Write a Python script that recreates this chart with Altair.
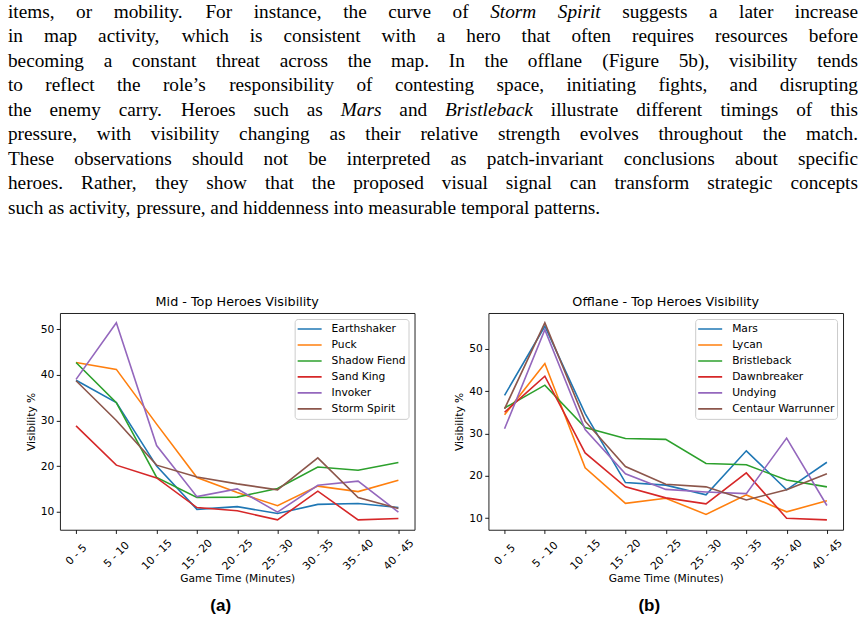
import altair as alt
import pandas as pd

# ---------------- data ----------------
periods = ["0 - 5", "5 - 10", "10 - 15", "15 - 20", "20 - 25",
           "25 - 30", "30 - 35", "35 - 40", "40 - 45"]

mid_heroes = ["Earthshaker", "Puck", "Shadow Fiend", "Sand King", "Invoker", "Storm Spirit"]
mid_earthshaker = [38.8, 33.9, 20.0, 10.5, 11.1, 9.6, 11.6, 11.8, 10.9]
mid_puck = [42.7, 41.2, 29.2, 17.5, 14.2, 11.3, 15.6, 14.4, 16.9]
mid_shadow_fiend = [42.7, 33.9, 17.5, 13.1, 13.2, 15.1, 19.8, 19.1, 20.8]
mid_sand_king = [28.8, 20.2, 17.4, 10.9, 10.2, 8.2, 14.5, 8.2, 8.5]
mid_invoker = [39.0, 51.4, 24.5, 13.3, 15.0, 9.9, 15.8, 16.7, 9.9]
mid_storm_spirit = [38.7, 30.0, 20.2, 17.6, 16.1, 14.8, 21.8, 13.1, 10.7]
mid_values = [mid_earthshaker, mid_puck, mid_shadow_fiend,
              mid_sand_king, mid_invoker, mid_storm_spirit]

off_heroes = ["Mars", "Lycan", "Bristleback", "Dawnbreaker", "Undying", "Centaur Warrunner"]
off_mars = [39.0, 55.3, 34.7, 18.4, 17.8, 15.5, 25.9, 16.7, 23.2]
off_lycan = [34.4, 46.5, 21.9, 13.5, 14.7, 10.9, 15.5, 11.5, 14.1]
off_bristleback = [36.0, 41.4, 31.4, 28.8, 28.6, 22.9, 22.6, 19.0, 17.4]
off_dawnbreaker = [35.0, 43.5, 25.4, 17.4, 14.8, 13.4, 20.7, 10.0, 9.6]
off_undying = [31.1, 54.5, 30.9, 20.5, 16.8, 16.2, 15.8, 28.9, 13.0]
off_centaur = [35.8, 56.1, 32.9, 22.2, 18.0, 17.4, 14.3, 16.7, 20.5]
off_values = [off_mars, off_lycan, off_bristleback,
              off_dawnbreaker, off_undying, off_centaur]

y_ticks = [10, 20, 30, 40, 50]
tab10 = ["#1f77b4", "#ff7f0e", "#2ca02c", "#d62728", "#9467bd", "#8c564b"]

paragraph = [
    "items, or mobility. For instance, the curve of *Storm* *Spirit* suggests a later increase",
    "in map activity, which is consistent with a hero that often requires resources before",
    "becoming a constant threat across the map. In the offlane (Figure 5b), visibility tends",
    "to reflect the role\u2019s responsibility of contesting space, initiating fights, and disrupting",
    "the enemy carry. Heroes such as *Mars* and *Bristleback* illustrate different timings of this",
    "pressure, with visibility changing as their relative strength evolves throughout the match.",
    "These observations should not be interpreted as patch-invariant conclusions about specific",
    "heroes. Rather, they show that the proposed visual signal can transform strategic concepts",
    "such as activity, pressure, and hiddenness into measurable temporal patterns.",
]

# ---------------- layout constants ----------------
PLOT_W, PLOT_H = 355, 217
ORIGIN_X = 59                         # left plot / paragraph view origin on the page
TEXT_X0, TEXT_X1 = 7, 858             # justified text block
BASE0, PITCH = 16.5, 24.5             # baseline of first line, line pitch
FS = 19.3                             # paragraph font size
PARA_H = 230


def width_table(groups):
    d = {}
    for w, chars in groups.items():
        for c in chars:
            d[c] = w
    return d


ROMAN = width_table({250: " ,.", 278: "ijlt:;", 333: "fr-()\u2019I[]", 389: "sJ",
                     444: "acez?", 500: "bdghknopquvxy0123456789", 556: "FPS",
                     611: "ELTZ", 667: "BCR", 722: "ADGHKNOQUVXYw", 778: "m",
                     889: "M", 944: "W"})
ITALIC = width_table({250: " ,.", 278: "fijlt", 389: "rsz", 444: "cekvxy",
                      500: "abdghnopquS", 611: "B", 667: "w", 722: "m", 833: "M"})


def word_width(word, italic):
    t = ITALIC if italic else ROMAN
    return sum(t.get(c, 500) for c in word) / 1000.0 * FS


rows = []
for i, line in enumerate(paragraph):
    items = [(w.strip("*"), w.startswith("*")) for w in line.split(" ")]
    widths = [word_width(w, it) for w, it in items]
    if i < len(paragraph) - 1:
        gap = (TEXT_X1 - TEXT_X0 - sum(widths)) / (len(items) - 1)
    else:
        gap = 0.25 * FS
    x = TEXT_X0
    for (w, it), wd in zip(items, widths):
        rows.append({"w": w, "x": x - ORIGIN_X, "y": BASE0 + i * PITCH,
                     "it": "i" if it else "r"})
        x += wd + gap
para_df = pd.DataFrame(rows)


def long_df(heroes, values):
    recs = []
    for h, vals in zip(heroes, values):
        for p, v in zip(periods, vals):
            recs.append({"period": p, "hero": h, "value": v})
    return pd.DataFrame(recs)


FONT = "DejaVu Sans"


def panel(heroes, values, domain, title, caption):
    df = long_df(heroes, values)
    lines = alt.Chart(df).mark_line(strokeWidth=1.6).encode(
        x=alt.X("period:O", sort=periods,
                scale=alt.Scale(padding=0.4),
                axis=alt.Axis(title="Game Time (Minutes)", labelAngle=-45,
                              labelAlign="center", labelBaseline="middle",
                              labelPadding=21, labelOverlap=False, titlePadding=2)),
        y=alt.Y("value:Q",
                scale=alt.Scale(domain=domain, nice=False, zero=False),
                axis=alt.Axis(title="Visibility %", values=y_ticks,
                              labelPadding=2.5, titlePadding=4)),
        color=alt.Color("hero:N", sort=heroes,
                        scale=alt.Scale(domain=heroes, range=tab10),
                        legend=alt.Legend(orient="top-right", offset=6, title=None,
                                          symbolType="stroke", symbolSize=576,
                                          symbolStrokeWidth=1.6,
                                          labelFont=FONT, labelFontSize=10.7,
                                          labelColor="black", labelOffset=9,
                                          padding=2, rowPadding=0, clipHeight=16,
                                          strokeColor="#cccccc", fillColor="white",
                                          cornerRadius=3, labelLimit=300)),
    )
    cap = alt.Chart(pd.DataFrame({"t": [caption]})).mark_text(
        font="Liberation Sans", fontWeight="bold", fontSize=17,
        align="center", baseline="middle", color="black",
    ).encode(text="t:N", x=alt.value(161), y=alt.value(293))
    return alt.layer(lines, cap).properties(
        width=PLOT_W, height=PLOT_H,
        title=alt.TitleParams(title, font=FONT, fontSize=12.8, fontWeight="normal",
                              color="black", offset=4, anchor="middle", frame="group"),
    )


left = panel(mid_heroes, mid_values, [6.04, 53.56],
             "Mid - Top Heroes Visibility", "(a)")
right = panel(off_heroes, off_values, [7.275, 58.425],
              "Offlane - Top Heroes Visibility", "(b)")

para_layers = []
for style, code in (("normal", "r"), ("italic", "i")):
    para_layers.append(
        alt.Chart(para_df).transform_filter(alt.datum.it == code).mark_text(
            align="left", baseline="alphabetic", font="Liberation Serif",
            fontSize=FS, fontStyle=style, color="black",
        ).encode(
            x=alt.X("x:Q", scale=None, axis=None),
            y=alt.Y("y:Q", scale=None, axis=None),
            text="w:N",
        )
    )
para = alt.layer(*para_layers).properties(
    width=PLOT_W, height=PARA_H,
    view=alt.ViewBackground(stroke="transparent"),
)

charts = alt.hconcat(left, right, spacing=74, bounds="flush").resolve_scale(color="independent")

chart = alt.vconcat(para, charts, spacing=312 - PARA_H, bounds="flush").properties(
    padding={"left": 7, "top": 0, "right": 4, "bottom": 4},
    background="white",
).configure_view(
    stroke="#222222", strokeWidth=1
).configure_axis(
    domain=False, grid=False, tickColor="black", tickWidth=0.9, tickSize=3.7,
    labelFont=FONT, labelFontSize=10.7, labelColor="black",
    titleFont=FONT, titleFontSize=10.7, titleFontWeight="normal", titleColor="black",
)

chart.save("out.html", embed_options={"renderer": "svg", "actions": False})
